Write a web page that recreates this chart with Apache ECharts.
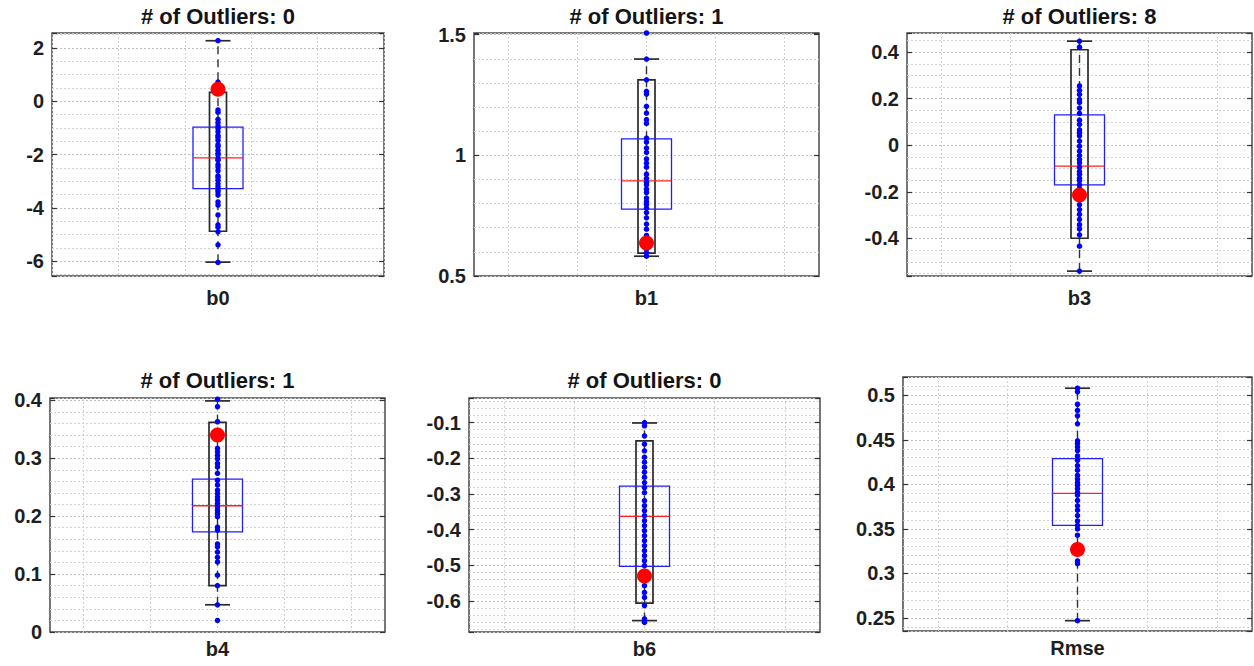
<!DOCTYPE html>
<html>
<head>
<meta charset="utf-8">
<script src="https://cdn.jsdelivr.net/npm/echarts@6/dist/echarts.min.js"></script>
<style>
  html, body { margin: 0; padding: 0; background: #ffffff; }
  #chart { width: 1254px; height: 666px; }
</style>
</head>
<body>
<div id="chart"></div>
<script>
// ---------------- data ----------------
const panelNames  = ['b0', 'b1', 'b3', 'b4', 'b6', 'Rmse'];
const panelTitles = ['# of Outliers: 0', '# of Outliers: 1', '# of Outliers: 8',
                     '# of Outliers: 1', '# of Outliers: 0', ''];

// y-axis limits and major tick labels of each panel
const yMin = [-6.56, 0.5, -0.561, 0, -0.687, 0.2354];
const yMax = [2.56, 1.507, 0.482, 0.404, -0.031, 0.5206];
const yTickLabels = [
  ['-6', '-4', '-2', '0', '2'],
  ['0.5', '1', '1.5'],
  ['-0.4', '-0.2', '0', '0.2', '0.4'],
  ['0', '0.1', '0.2', '0.3', '0.4'],
  ['-0.6', '-0.5', '-0.4', '-0.3', '-0.2', '-0.1'],
  ['0.25', '0.3', '0.35', '0.4', '0.45', '0.5']
];

// whisker ends, outer (black) box, quartile (blue) box and median
const whiskerLow  = [-6.04, 0.582, -0.540, 0.047, -0.655, 0.247];
const whiskerHigh = [2.27, 1.399, 0.447, 0.399, -0.101, 0.508];
const outerLow    = [-4.88, 0.595, -0.399, 0.080, -0.606, null];
const outerHigh   = [0.33, 1.313, 0.410, 0.362, -0.151, null];
const quart1      = [-3.28, 0.777, -0.170, 0.173, -0.503, 0.354];
const medians     = [-2.13, 0.894, -0.089, 0.218, -0.363, 0.390];
const quart3      = [-0.97, 1.068, 0.131, 0.264, -0.278, 0.429];

// highlighted estimate (large red marker)
const highlighted = [0.45, 0.637, -0.213, 0.340, -0.530, 0.327];

// individual samples
const samplesB0 = [2.27, 0.72, -0.33, -0.41, -0.68, -0.80, -0.93, -1.02, -1.15, -1.29, -1.36,
  -1.47, -1.63, -1.70, -1.84, -1.95, -2.02, -2.16, -2.22, -2.38, -2.47, -2.61, -2.80, -2.86,
  -2.97, -3.10, -3.21, -3.32, -3.40, -3.52, -3.78, -3.90, -4.27, -4.64, -4.73, -4.90, -5.39, -6.05];
const samplesB1 = [1.507, 1.399, 1.313, 1.265, 1.254, 1.203, 1.175, 1.148, 1.132, 1.071, 1.055,
  1.030, 1.012, 0.985, 0.968, 0.951, 0.922, 0.905, 0.889, 0.878, 0.860, 0.846, 0.823, 0.808,
  0.796, 0.781, 0.763, 0.741, 0.715, 0.694, 0.668, 0.625, 0.612, 0.596, 0.582];
const samplesB3 = [0.447, 0.421, 0.255, 0.236, 0.219, 0.196, 0.184, 0.160, 0.137, 0.108, 0.090,
  0.066, 0.055, 0.041, 0.018, -0.004, -0.025, -0.044, -0.061, -0.075, -0.094, -0.112, -0.124,
  -0.141, -0.152, -0.170, -0.186, -0.255, -0.276, -0.296, -0.318, -0.341, -0.359, -0.384,
  -0.433, -0.540];
const samplesB4 = [0.402, 0.389, 0.363, 0.317, 0.311, 0.305, 0.299, 0.291, 0.285, 0.274, 0.262,
  0.254, 0.245, 0.239, 0.233, 0.228, 0.222, 0.216, 0.210, 0.205, 0.199, 0.181, 0.176, 0.152,
  0.147, 0.138, 0.129, 0.121, 0.098, 0.080, 0.047, 0.020];
const samplesB6 = [-0.100, -0.109, -0.137, -0.160, -0.179, -0.197, -0.211, -0.225, -0.239,
  -0.253, -0.268, -0.282, -0.296, -0.319, -0.333, -0.347, -0.361, -0.375, -0.389, -0.403,
  -0.417, -0.431, -0.445, -0.459, -0.473, -0.487, -0.501, -0.557, -0.576, -0.590, -0.613,
  -0.650, -0.660];
const samplesRmse = [0.508, 0.504, 0.490, 0.483, 0.477, 0.468, 0.449, 0.446, 0.442, 0.438,
  0.432, 0.427, 0.421, 0.416, 0.410, 0.406, 0.402, 0.399, 0.395, 0.391, 0.388, 0.382, 0.376,
  0.371, 0.365, 0.359, 0.354, 0.350, 0.343, 0.314, 0.311, 0.247];
const samples = [samplesB0, samplesB1, samplesB3, samplesB4, samplesB6, samplesRmse];

// ---------------- layout & style ----------------
const FONT = '"Liberation Sans", Arial, Helvetica, sans-serif';
const TEXT_COLOR = '#1e1e1e';
const CENTER = 2.5;          // x position of the box on a 0..5 axis
const BOX_HALF = 25;         // px
const OUTER_HALF = 8.5;      // px
const CAP_HALF = 12.5;       // px

const panels = [
  { left: 52,  top: 33,  width: 332, height: 243, titleTop: 5,   nameGap: 12 },
  { left: 474, top: 33,  width: 345, height: 243, titleTop: 5,   nameGap: 12 },
  { left: 907, top: 33,  width: 345, height: 243, titleTop: 5,   nameGap: 12 },
  { left: 50,  top: 398, width: 335, height: 234, titleTop: 369, nameGap: 7 },
  { left: 469, top: 398, width: 351, height: 234, titleTop: 369, nameGap: 7 },
  { left: 903, top: 377, width: 349, height: 254, titleTop: 350, nameGap: 7 }
];
const ySplitNumber = [5, 2, 5, 4, 5, 5];
const yMinorSplit  = [4, 5, 4, 5, 5, 5];

const gridLineMajor = { color: '#c2c2c2', width: 1, type: [2, 2] };
const gridLineMinor = { color: '#d2d2d2', width: 1, type: [2, 2] };

function renderWhisker(params, api) {
  const x = api.value(0);
  const lo = api.coord([x, api.value(1)]);
  const hi = api.coord([x, api.value(4)]);
  const lineStyle = { stroke: '#2a2a2a', lineWidth: 1.7 };
  const children = [
    { type: 'line', shape: { x1: lo[0], y1: lo[1], x2: hi[0], y2: hi[1] },
      style: { stroke: '#333333', lineWidth: 1.4, lineDash: [8, 5] } },
    { type: 'line', shape: { x1: lo[0] - CAP_HALF, y1: lo[1], x2: lo[0] + CAP_HALF, y2: lo[1] }, style: lineStyle },
    { type: 'line', shape: { x1: hi[0] - CAP_HALF, y1: hi[1], x2: hi[0] + CAP_HALF, y2: hi[1] }, style: lineStyle }
  ];
  const bl = api.value(2), bh = api.value(3);
  if (!isNaN(bl) && !isNaN(bh)) {
    const a = api.coord([x, bh]);
    const b = api.coord([x, bl]);
    children.push({ type: 'rect',
      shape: { x: a[0] - OUTER_HALF, y: a[1], width: 2 * OUTER_HALF, height: b[1] - a[1] },
      style: { fill: 'none', stroke: '#2a2a2a', lineWidth: 1.7 } });
  }
  return { type: 'group', children };
}

function renderQuartiles(params, api) {
  const x = api.value(0);
  const q1 = api.coord([x, api.value(1)]);
  const md = api.coord([x, api.value(2)]);
  const q3 = api.coord([x, api.value(3)]);
  return { type: 'group', children: [
    { type: 'rect', shape: { x: q3[0] - BOX_HALF, y: q3[1], width: 2 * BOX_HALF, height: q1[1] - q3[1] },
      style: { fill: 'none', stroke: '#1f1fff', lineWidth: 1.3 } },
    { type: 'line', shape: { x1: md[0] - BOX_HALF, y1: md[1], x2: md[0] + BOX_HALF, y2: md[1] },
      style: { stroke: '#ff2020', lineWidth: 1.3 } }
  ] };
}

function tickFormatter(i) {
  const tol = (yMax[i] - yMin[i]) * 1e-4;
  return function (v) {
    const lab = yTickLabels[i].find(t => Math.abs(Number(t) - v) < tol);
    return lab === undefined ? '' : lab;
  };
}

const option = {
  animation: false,
  backgroundColor: '#ffffff',
  title: [], grid: [], xAxis: [], yAxis: [], series: []
};

panels.forEach((p, i) => {
  option.grid.push({ left: p.left, top: p.top, width: p.width, height: p.height,
    show: true, borderColor: '#4a4a4a', borderWidth: 1.5, backgroundColor: '#ffffff' });

  if (panelTitles[i]) {
    option.title.push({ text: panelTitles[i], left: p.left + p.width / 2, top: p.titleTop,
      textAlign: 'center', padding: 0,
      textStyle: { fontFamily: FONT, fontSize: 22, fontWeight: 'bold', color: '#141414' } });
  }

  option.xAxis.push({
    gridIndex: i, type: 'value', min: 0, max: 5, interval: 1,
    axisLine: { show: false }, axisTick: { show: false }, axisLabel: { show: false },
    splitLine: { show: i === 0, lineStyle: gridLineMinor },
    minorTick: { show: false, splitNumber: 2 },
    minorSplitLine: { show: i !== 0, lineStyle: gridLineMinor },
    name: panelNames[i], nameLocation: 'middle', nameGap: p.nameGap,
    nameTextStyle: { fontFamily: FONT, fontSize: 20, fontWeight: 'bold', color: TEXT_COLOR }
  });

  option.yAxis.push({
    gridIndex: i, type: 'value', min: yMin[i], max: yMax[i], splitNumber: ySplitNumber[i],
    axisLine: { show: false },
    axisTick: { show: true, inside: true, length: 5, lineStyle: { color: '#333333', width: 1.2 } },
    axisLabel: { formatter: tickFormatter(i), margin: 8, fontFamily: FONT, fontSize: 20,
      fontWeight: 700, color: TEXT_COLOR },
    splitLine: { show: true, lineStyle: gridLineMajor },
    minorTick: { show: false, splitNumber: yMinorSplit[i] },
    minorSplitLine: { show: true, lineStyle: gridLineMinor }
  });
  option.yAxis.push({
    gridIndex: i, type: 'value', position: 'right', min: yMin[i], max: yMax[i],
    splitNumber: ySplitNumber[i],
    axisLine: { show: false },
    axisTick: { show: true, inside: true, length: 5, lineStyle: { color: '#333333', width: 1.2 } },
    axisLabel: { show: false }, splitLine: { show: false }
  });

  const yIdx = 2 * i;
  option.series.push({
    type: 'custom', xAxisIndex: i, yAxisIndex: yIdx, z: 2,
    renderItem: renderWhisker,
    data: [[CENTER, whiskerLow[i], outerLow[i] === null ? '-' : outerLow[i],
            outerHigh[i] === null ? '-' : outerHigh[i], whiskerHigh[i]]]
  });
  option.series.push({
    type: 'custom', xAxisIndex: i, yAxisIndex: yIdx, z: 3,
    renderItem: renderQuartiles,
    data: [[CENTER, quart1[i], medians[i], quart3[i]]]
  });
  option.series.push({
    type: 'scatter', xAxisIndex: i, yAxisIndex: yIdx, z: 4,
    symbol: 'circle', symbolSize: 5.5, itemStyle: { color: '#0000ff', opacity: 1 },
    data: samples[i].map(v => [CENTER, v])
  });
  option.series.push({
    type: 'scatter', xAxisIndex: i, yAxisIndex: yIdx, z: 5,
    symbol: 'circle', symbolSize: 15, itemStyle: { color: '#ff0000', opacity: 1 },
    data: [[CENTER, highlighted[i]]]
  });
});

const chart = echarts.init(document.getElementById('chart'), null, { renderer: 'svg' });
chart.setOption(option);
</script>
</body>
</html>
